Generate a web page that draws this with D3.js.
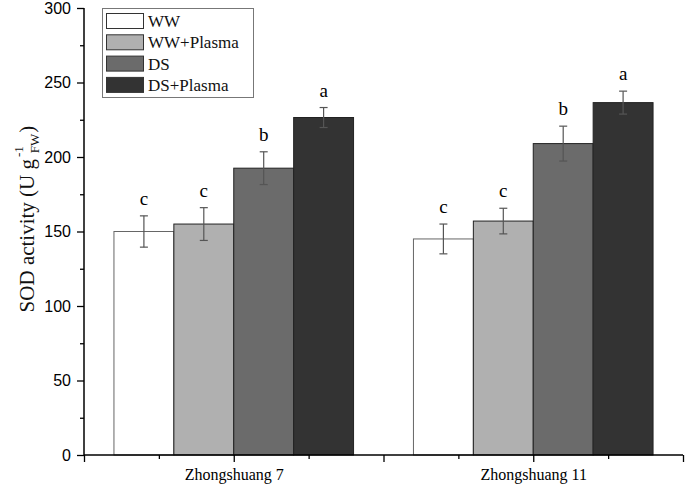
<!DOCTYPE html>
<html>
<head>
<meta charset="utf-8">
<script src="https://cdn.jsdelivr.net/npm/d3@7"></script>
<style>
  body { margin: 0; background: #fff; }
  svg { display: block; }
</style>
</head>
<body>
<svg id="chart" width="685" height="487"></svg>
<script>
// ---- data ----
const groups = ["Zhongshuang 7", "Zhongshuang 11"];
const groupPos = [2, 6];
const seriesNames = ["WW", "WW+Plasma", "DS", "DS+Plasma"];
const seriesColors = ["#ffffff", "#b0b0b0", "#6b6b6b", "#333333"];
const valWW = [150, 145];
const valWWP = [155, 157];
const valDS = [192.5, 209];
const valDSP = [226.5, 236.5];
const errWW = [10.5, 10];
const errWWP = [11, 8.6];
const errDS = [11, 11.7];
const errDSP = [6.7, 7.7];
const letWW = ["c", "c"];
const letWWP = ["c", "c"];
const letDS = ["b", "b"];
const letDSP = ["a", "a"];
const yTicks = [0, 50, 100, 150, 200, 250, 300];

const values = [valWW, valWWP, valDS, valDSP];
const errors = [errWW, errWWP, errDS, errDSP];
const letters = [letWW, letWWP, letDS, letDSP];

const svg = d3.select("#chart");
const x = d3.scaleLinear().domain([0, 8]).range([84, 683]);
const y = d3.scaleLinear().domain([0, 300]).range([455, 8]);
const barW = 0.8;
const serif = "'Liberation Serif', 'Times New Roman', serif";
const sans = "'Liberation Sans', Arial, sans-serif";

// bars
const data = [];
groups.forEach((g, gi) => {
  seriesNames.forEach((s, si) => {
    const x0 = groupPos[gi] - 2 * barW + si * barW;
    data.push({ gi, si, x0, v: values[si][gi], e: errors[si][gi], l: letters[si][gi] });
  });
});

svg.append("g").selectAll("rect").data(data).join("rect")
  .attr("x", d => x(d.x0))
  .attr("y", d => y(d.v))
  .attr("width", d => x(d.x0 + barW) - x(d.x0))
  .attr("height", d => y(0) - y(d.v))
  .attr("fill", d => seriesColors[d.si])
  .attr("stroke", d => d.si === 0 ? "#666" : "#222")
  .attr("stroke-width", 1);

// error bars
const eg = svg.append("g").attr("stroke", "#555").attr("stroke-width", 1.2);
data.forEach(d => {
  const cx = x(d.x0 + barW / 2);
  eg.append("line").attr("x1", cx).attr("x2", cx).attr("y1", y(d.v + d.e)).attr("y2", y(d.v - d.e));
  eg.append("line").attr("x1", cx - 4).attr("x2", cx + 4).attr("y1", y(d.v + d.e)).attr("y2", y(d.v + d.e));
  eg.append("line").attr("x1", cx - 4).attr("x2", cx + 4).attr("y1", y(d.v - d.e)).attr("y2", y(d.v - d.e));
});

// letters
svg.append("g").selectAll("text").data(data).join("text")
  .attr("x", d => x(d.x0 + barW / 2))
  .attr("y", d => y(d.v + d.e) - 11)
  .attr("text-anchor", "middle")
  .attr("font-family", serif)
  .attr("font-size", 19)
  .text(d => d.l);

// y axis
const yAxis = d3.axisLeft(y).tickValues(d3.range(0, 301, 25)).tickSize(7)
  .tickFormat(d => yTicks.includes(d) ? d : "");
const ya = svg.append("g").attr("transform", `translate(${x(0)},0)`).call(yAxis);
ya.select(".domain").attr("stroke-width", 1.5).attr("d", `M0,${y(300)}V${y(0)}`);
ya.selectAll(".tick line").attr("stroke-width", 1.3).attr("x2", d => yTicks.includes(d) ? -7 : -4);
ya.selectAll(".tick text").attr("font-family", sans).attr("font-size", 16).attr("fill", "#000").attr("x", -13);

// x axis
const xAxis = d3.axisBottom(x).tickValues(d3.range(0, 9, 1)).tickSize(7)
  .tickFormat(d => { const i = groupPos.indexOf(d); return i >= 0 ? groups[i] : ""; });
const xa = svg.append("g").attr("transform", `translate(0,${y(0)})`).call(xAxis);
xa.select(".domain").attr("stroke-width", 1.5).attr("d", `M${x(0)},0H${x(8)}`);
xa.selectAll(".tick line").attr("stroke-width", 1.3).attr("y2", d => d % 2 === 0 ? 7 : 4);
xa.selectAll(".tick text").attr("font-family", serif).attr("font-size", 16).attr("fill", "#000").attr("y", 14);

// y title
const t = svg.append("text")
  .attr("transform", "translate(34,219) rotate(-90)")
  .attr("text-anchor", "middle")
  .attr("font-family", serif)
  .attr("font-size", 21)
  .attr("fill", "#111");
t.append("tspan").text("SOD activity (U g");
t.append("tspan").attr("font-size", 13).attr("dx", 2).attr("dy", -11).text("-1");
t.append("tspan").attr("font-size", 13).attr("dx", -7).attr("dy", 16).text("FW");
t.append("tspan").attr("dx", 1).attr("dy", -5).text(")");

// legend
const lg = svg.append("g");
lg.append("rect").attr("x", 102.5).attr("y", 8.5).attr("width", 151).attr("height", 89)
  .attr("fill", "#fff").attr("stroke", "#777").attr("stroke-width", 1);
seriesNames.forEach((s, i) => {
  const yy = 13 + i * 21.3;
  lg.append("rect").attr("x", 106.5).attr("y", yy + 0.5).attr("width", 37).attr("height", 15)
    .attr("fill", seriesColors[i]).attr("stroke", "#333").attr("stroke-width", 1);
  lg.append("text").attr("x", 148).attr("y", yy + 14).attr("font-family", serif)
    .attr("font-size", 17).attr("fill", "#111").text(s);
});
</script>
</body>
</html>
